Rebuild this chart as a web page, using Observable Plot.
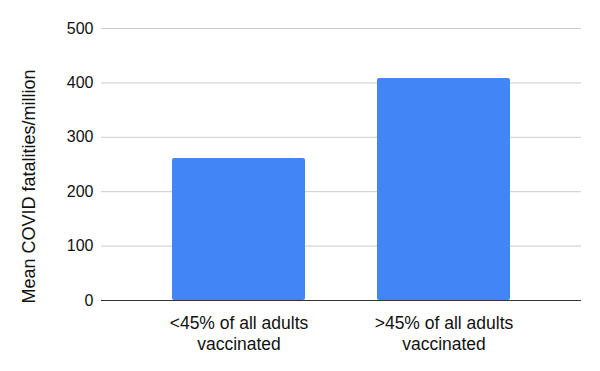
<!DOCTYPE html>
<html>
<head>
<meta charset="utf-8">
<script src="https://cdn.jsdelivr.net/npm/d3@7"></script>
<script src="https://cdn.jsdelivr.net/npm/@observablehq/plot@0.6"></script>
<style>
  html, body { margin: 0; padding: 0; background: #fff; }
  #chart svg { display: block; }
</style>
</head>
<body>
<div id="chart"></div>
<script>
const categories = ["<45% of all adults\nvaccinated", ">45% of all adults\nvaccinated"];
const values = [261, 408];
const yTicks = [0, 100, 200, 300, 400, 500];
const yTitle = ["Mean COVID fatalities/million"];

const data = categories.map((c, i) => ({category: c, value: values[i]}));

const chart = Plot.plot({
  width: 600,
  height: 371,
  marginLeft: 101,
  marginRight: 19,
  marginTop: 28,
  marginBottom: 71,
  style: {fontFamily: "'Liberation Sans', Arial, sans-serif", color: "#111", background: "#fff"},
  x: {domain: categories, paddingInner: 0.352, paddingOuter: 0.345, label: null},
  y: {domain: [0, 500], label: null},
  marks: [
    Plot.gridY(yTicks, {stroke: "#cccccc", strokeOpacity: 1}),
    Plot.axisY(yTicks, {tickSize: 0, tickPadding: 8, fontSize: 16, fill: "#111", label: null}),
    Plot.axisX({tickSize: 0, tickPadding: 14, fontSize: 17.5, lineHeight: 1.17, fill: "#111", label: null, textAnchor: "middle"}),
    Plot.barY(data, {x: "category", y: "value", fill: "#4285F4", rx: 2}),
    Plot.ruleY([0], {stroke: "#333"}),
    Plot.text(yTitle, {text: d => d, frameAnchor: "left", rotate: -90, dx: -72, dy: 22, fontSize: 18, fill: "#111", textAnchor: "middle"})
  ]
});
document.getElementById("chart").appendChild(chart);
</script>
</body>
</html>
